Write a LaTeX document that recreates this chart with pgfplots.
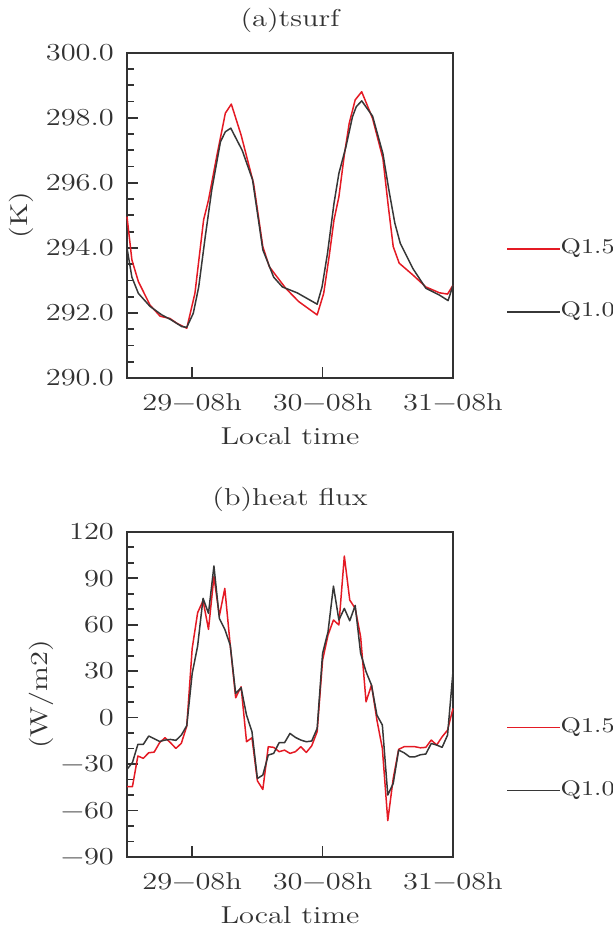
\documentclass[border=0pt]{standalone}
\usepackage{fontspec}
\setmainfont{Latin Modern Roman}[FakeStretch=1.25]
\usepackage{pgfplots}
\pgfplotsset{compat=1.18}

\definecolor{qred}{RGB}{228,26,36}
\definecolor{qblack}{RGB}{55,55,55}
\definecolor{frame}{RGB}{50,50,50}
\newcommand{\cf}{\fontsize{12.2}{14}\selectfont}
\newcommand{\lf}{\fontsize{10.5}{12}\selectfont}

% surface temperature, hours since 28-20h
\pgfplotstableread{
x y
0 294.96
0.9 293.63
2.1 292.96
4.25 292.24
6.1 291.9
7.9 291.83
9.2 291.68
11.0 291.53
12.5 292.6
14.1 294.86
15.0 295.47
16.5 296.8
18.1 298.14
19.2 298.42
21.0 297.47
23.3 295.98
25.0 294.04
26.2 293.42
29.2 292.76
31.6 292.35
35.0 291.94
36.2 292.6
37.2 293.73
38.1 294.86
39.0 295.57
40.0 296.86
40.9 297.83
42.0 298.55
43.2 298.8
45.2 297.98
47.1 296.75
48.1 295.27
49.0 294.04
50.1 293.53
52.6 293.17
55.0 292.8
57.5 292.62
59.0 292.58
60 292.85
}\tsA

\pgfplotstableread{
x y
0 294.0
0.9 293.1
2.1 292.6
4.25 292.2
6.4 291.94
8.0 291.8
10.1 291.58
11.0 291.56
12.2 291.99
13.2 292.8
14.4 294.34
15.6 295.78
17.2 297.26
18.1 297.57
19.1 297.68
21.2 297.0
23.1 296.1
25.0 293.94
27.0 293.1
28.6 292.8
31.3 292.62
35.0 292.27
35.9 292.8
36.9 293.83
38.1 295.37
39.0 296.29
40.3 297.11
41.5 298.03
42.2 298.34
43.2 298.52
45.2 298.05
47.1 296.9
48.2 295.78
49.3 294.76
50.3 294.14
52.6 293.37
55.0 292.76
57.5 292.55
59.1 292.38
60 292.85
}\tsB

% heat flux, hourly
\pgfplotstableread{
x q15 q10
0 -44.6 -33.4
1 -44.6 -29
2 -24.8 -17.3
3 -26.3 -17.3
4 -22.7 -11.9
5 -22.3 -13.6
6 -16.2 -15.4
7 -13 -14.5
8 -16.2 -14.1
9 -19.9 -14.7
10 -16.6 -11.3
11 -5.5 -5.2
12 44.7 28.5
13 67.7 46.2
14 75.5 77
15 57 67.3
16 91 97.9
17 65.6 64
18 83.4 57
19 46.8 46.8
20 12.8 15.6
21 19.9 19.3
22 -15.6 1.6
23 -13 -9.1
24 -40.8 -39.3
25 -46.4 -37.1
26 -18.8 -24.2
27 -19.2 -23.1
28 -22 -16.2
29 -21 -16.2
30 -23.1 -10.2
31 -22 -12.8
32 -18.8 -14.5
33 -22.5 -15.6
34 -18.2 -15.1
35 -9.1 -7
36 37.1 41.5
37 53.3 55.4
38 63 84.9
39 59.8 63
40 104.3 70.5
41 75.9 62.5
42 70.5 72.4
43 52.2 41.5
44 10.2 29.6
45 21 21
46 -1.6 1.6
47 -19.9 -4.8
48 -66.5 -50
49 -39.3 -42.5
50 -20.5 -21
51 -18.8 -22.7
52 -18.8 -25.3
53 -18.8 -25.3
54 -19.5 -24
55 -19.2 -23.5
56 -14.5 -16.7
57 -17.7 -17.7
58 -12.4 -19.2
59 -8.1 -11.3
60 5.9 29.6
}\flux

\tikzset{key/.style={font=\lf, text=frame, anchor=west, inner sep=0pt, yshift=0.5pt}}

\pgfplotsset{
  ncl/.style={
    scale only axis, clip=false,
    width=163pt, height=162.65pt,
    xmin=0, xmax=60,
    xtick={12,36,60},
    xticklabels={29−08h,30−08h,31−08h},
    axis line style={frame, line width=1pt},
    tick style={frame, line width=0.9pt},
    tick align=inside,
    xtick pos=bottom, ytick pos=left,
    major tick length=5.5pt, minor tick length=3.5pt,
    minor x tick num=0,
    tick label style={font=\cf, text=frame},
    yticklabel style={xshift=-3pt},
    xticklabel style={yshift=-4pt},
    label style={font=\cf, text=frame},
    title style={font=\cf, text=frame, at={(axis description cs:0.5,1)}, anchor=center, yshift=10.35pt},
    xlabel style={at={(axis description cs:0.5,0)}, anchor=center, yshift=-29.3pt},
    xlabel={Local time},
  },
  every axis plot/.append style={line width=0.75pt, line join=round},
}

\begin{document}
\begin{tikzpicture}
\begin{axis}[ncl,
    at={(63.5pt,-189pt)}, anchor=south west,
    ymin=290, ymax=300,
    ytick={290,292,...,300},
    yticklabels={290.0,292.0,294.0,296.0,298.0,300.0},
    minor y tick num=3,
    title={(a)tsurf},
    ylabel={(K)},
    ylabel style={at={(axis description cs:-0.3236,0.5)}, anchor=center},
  ]
\addplot[qred] table[x=x, y=y] {\tsA};
\addplot[qblack] table[x=x, y=y] {\tsB};
% key, outside the frame
\addplot[qred, forget plot] coordinates {(69.97,293.97) (79.75,293.97)};
\addplot[qblack, forget plot] coordinates {(69.97,292.03) (79.75,292.03)};
\node[key] at (axis cs:79.75,293.97) {Q1.5};
\node[key] at (axis cs:79.75,292.03) {Q1.0};
\end{axis}

\begin{axis}[ncl,
    at={(63.5pt,-428.5pt)}, anchor=south west,
    ymin=-90, ymax=120,
    ytick={-90,-60,...,120},
    yticklabels={−90,−60,−30,0,30,60,90,120},
    minor y tick num=2,
    title={(b)heat flux},
    ylabel={(W/m2)},
    ylabel style={at={(axis description cs:-0.2638,0.5)}, anchor=center},
  ]
\addplot[qred] table[x=x, y=q15] {\flux};
\addplot[qblack] table[x=x, y=q10] {\flux};
\addplot[qred, forget plot] coordinates {(69.97,-6.55) (79.75,-6.55)};
\addplot[qblack, forget plot] coordinates {(69.97,-47.2) (79.75,-47.2)};
\node[key] at (axis cs:79.75,-6.55) {Q1.5};
\node[key] at (axis cs:79.75,-47.2) {Q1.0};
\end{axis}
\pgfresetboundingbox
\useasboundingbox (0pt,0pt) rectangle (306.5pt,-463.5pt);
\end{tikzpicture}
\end{document}
